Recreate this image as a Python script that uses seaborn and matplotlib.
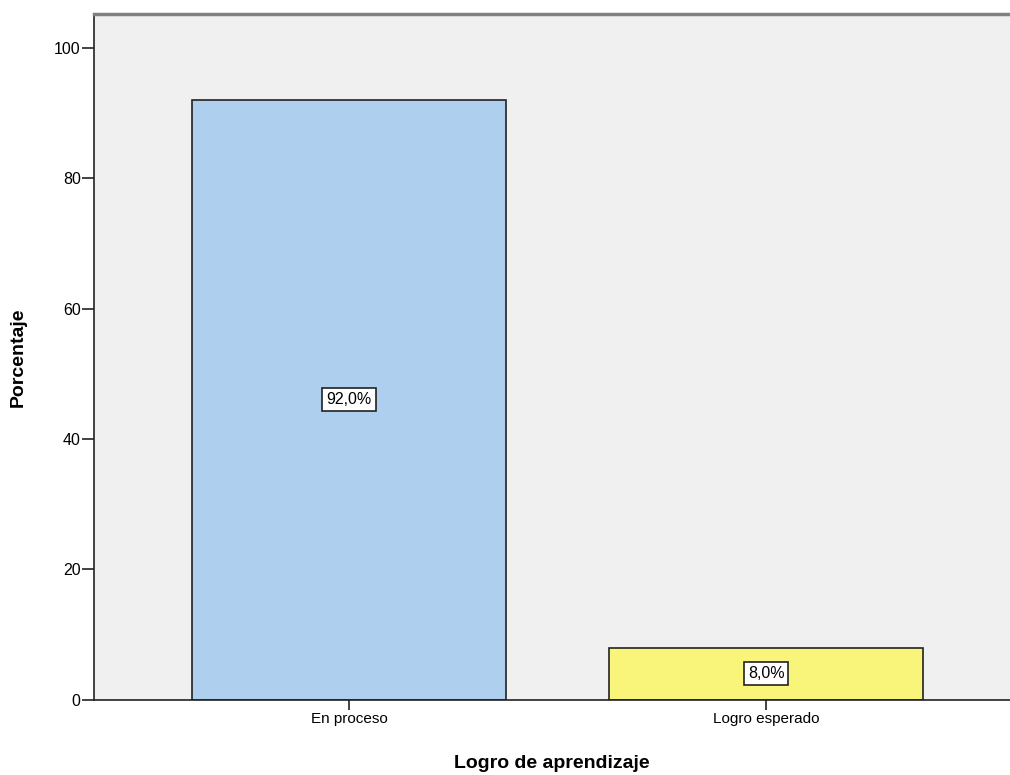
import pandas as pd
import matplotlib.pyplot as plt
import seaborn as sns

# Data
categories = ["En proceso", "Logro esperado"]
percentages = [92.0, 8.0]
bar_colors = ["#aecfee", "#f8f57a"]

df = pd.DataFrame({"logro": categories, "pct": percentages})

sns.set_theme(style="white")
plt.rcParams["font.family"] = ["Arial", "Liberation Sans", "DejaVu Sans"]
plt.rcParams["text.color"] = "black"
plt.rcParams["axes.labelcolor"] = "black"
plt.rcParams["xtick.color"] = "black"
plt.rcParams["ytick.color"] = "black"

fig = plt.figure(figsize=(10.1, 7.75), dpi=100)
ax = fig.add_axes([0.093, 0.097, 0.907, 0.885])
ax.set_facecolor("#f0f0f0")

sns.barplot(data=df, x="logro", y="pct", hue="logro", palette=bar_colors,
            legend=False, width=0.753, edgecolor="#222222", linewidth=1.2,
            saturation=1, ax=ax, zorder=2)

# value labels in boxes, centred on each bar
for i, v in enumerate(percentages):
    ax.text(i, v / 2, f"{v:.1f}%".replace(".", ","), ha="center", va="center",
            fontsize=11.5, color="black",
            bbox=dict(boxstyle="square,pad=0.25", fc="white", ec="#222222", lw=1.2),
            zorder=3)

ax.set_ylim(0, 105.2)
ax.set_xlim(-0.612, 1.585)
ax.set_yticks([0, 20, 40, 60, 80, 100])

ax.spines["right"].set_visible(False)
ax.spines["top"].set_color("#808080")
ax.spines["top"].set_linewidth(2.5)
for s in ["left", "bottom"]:
    ax.spines[s].set_color("#222222")
    ax.spines[s].set_linewidth(1.2)

ax.tick_params(axis="y", left=True, length=8.5, width=1.2, color="#222222",
               labelsize=11.5, labelcolor="black", pad=1)
ax.tick_params(axis="x", bottom=True, length=7, width=1.2, color="#222222",
               labelsize=11, labelcolor="black", pad=2)

ax.set_ylabel("Porcentaje", fontsize=14, fontweight="bold", labelpad=20)
ax.set_xlabel("Logro de aprendizaje", fontsize=14, fontweight="bold", labelpad=21)

fig.savefig("out.png", dpi=100)
